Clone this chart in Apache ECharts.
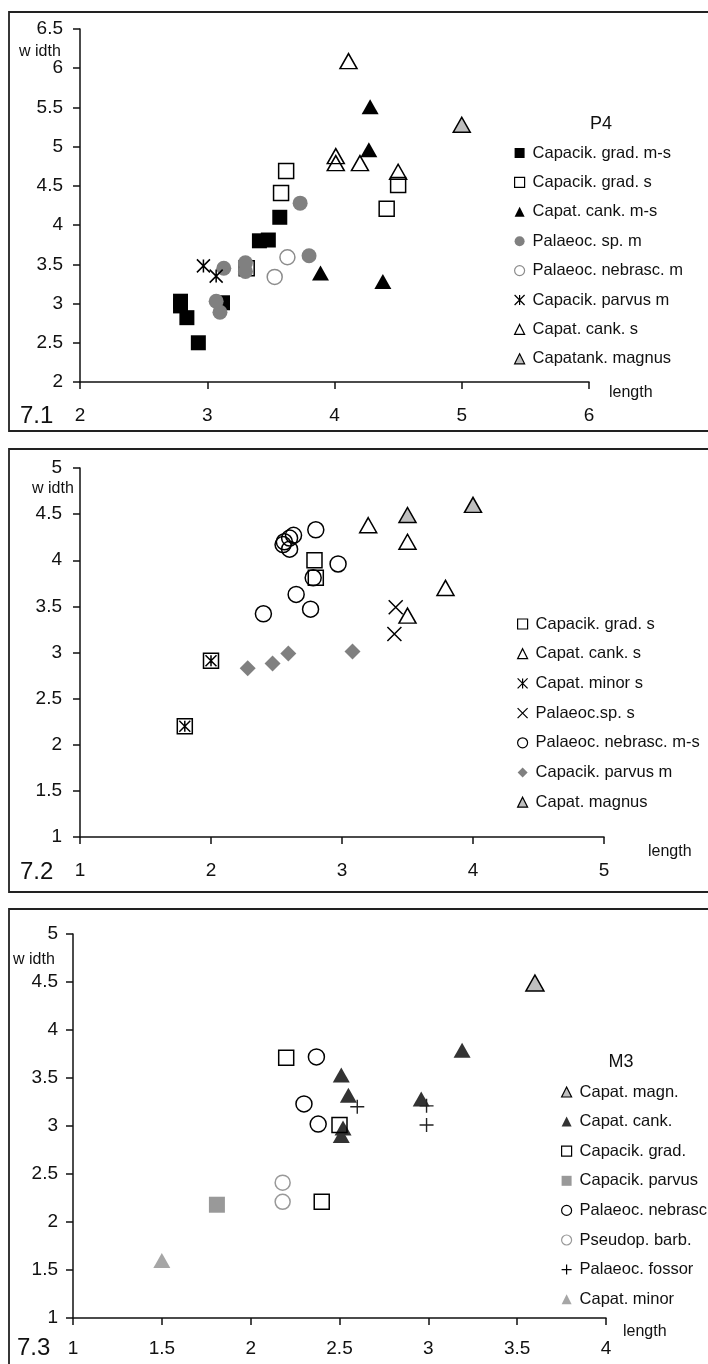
<!DOCTYPE html>
<html><head><meta charset="utf-8">
<script src="https://cdn.jsdelivr.net/npm/echarts@6/dist/echarts.min.js"></script>
<style>html,body{margin:0;padding:0;background:#fff}#c{width:708px;height:1364px}</style>
</head><body><div id="c"></div>
<script>
// ---------- Panel 7.1 (P4) ----------
const p1Names = ['Capacik. grad. m-s','Capacik. grad. s','Capat. cank. m-s','Palaeoc. sp. m','Palaeoc. nebrasc. m','Capacik. parvus m','Capat. cank. s','Capatank. magnus'];
const p1GradMS   = [[2.79,3.03],[2.79,2.97],[2.84,2.82],[2.93,2.50],[3.12,3.01],[3.41,3.80],[3.48,3.81],[3.57,4.10]];
const p1GradS    = [[3.62,4.69],[3.58,4.41],[3.31,3.45],[4.50,4.51],[4.41,4.21]];
const p1CankMS   = [[4.28,5.51],[4.27,4.96],[4.38,3.28],[3.89,3.39]];
const p1SpM      = [[3.73,4.28],[3.80,3.61],[3.30,3.52],[3.30,3.41],[3.13,3.45],[3.07,3.03],[3.10,2.89]];
const p1NebrM    = [[3.63,3.59],[3.53,3.34]];
const p1ParvusM  = [[2.97,3.48],[3.07,3.35]];
const p1CankS    = [[4.11,6.09],[4.01,4.88],[4.01,4.79],[4.20,4.79],[4.50,4.68]];
const p1Magnus   = [[5.00,5.28]];
const p1XTicks = {min:2,max:6,interval:1};
const p1YTicks = {min:2,max:6.5,interval:0.5};

// ---------- Panel 7.2 ----------
const p2Names = ['Capacik. grad. s','Capat. cank. s','Capat. minor s','Palaeoc.sp. s','Palaeoc. nebrasc. m-s','Capacik. parvus m','Capat. magnus'];
const p2GradS    = [[2.79,4.00],[2.80,3.81],[2.00,2.91],[1.80,2.20]];
const p2CankS    = [[3.20,4.38],[3.50,4.20],[3.79,3.70],[3.50,3.40]];
const p2MinorS   = [[2.00,2.91],[1.80,2.20]];
const p2SpS      = [[3.41,3.49],[3.40,3.20]];
const p2NebrMS   = [[2.80,4.33],[2.63,4.27],[2.60,4.24],[2.56,4.20],[2.55,4.17],[2.60,4.12],[2.97,3.96],[2.78,3.81],[2.65,3.63],[2.76,3.47],[2.40,3.42]];
const p2ParvusM  = [[2.28,2.83],[2.47,2.88],[2.59,2.99],[3.08,3.01]];
const p2Magnus   = [[3.50,4.49],[4.00,4.60]];
const p2XTicks = {min:1,max:5,interval:1};
const p2YTicks = {min:1,max:5,interval:0.5};

// ---------- Panel 7.3 (M3) ----------
const p3Names = ['Capat. magn.','Capat. cank.','Capacik. grad.','Capacik. parvus','Palaeoc. nebrasc','Pseudop. barb.','Palaeoc. fossor','Capat. minor'];
const p3Magn     = [[3.60,4.49]];
const p3Cank     = [[3.19,3.79],[2.96,3.28],[2.51,3.53],[2.55,3.32],[2.52,2.98],[2.51,2.90]];
const p3Grad     = [[2.20,3.71],[2.50,3.01],[2.40,2.21]];
const p3Parvus   = [[1.81,2.18]];
const p3Nebr     = [[2.37,3.72],[2.30,3.23],[2.38,3.02]];
const p3Pseudop  = [[2.18,2.41],[2.18,2.21]];
const p3Fossor   = [[2.60,3.20],[2.99,3.21],[2.99,3.01]];
const p3Minor    = [[1.50,1.60]];
const p3XTicks = {min:1,max:4,interval:0.5};
const p3YTicks = {min:1,max:5,interval:0.5};

// ---------- styles ----------
const FONT = '"Liberation Sans", Arial, sans-serif';
const TR = 'rgba(0,0,0,0)';
const ASTER = 'path://M0,0L10,10M10,0L0,10M5,0L5,10';
const CROSS = 'path://M0,0L10,10M10,0L0,10';
const PLUS  = 'path://M0,5L10,5M5,0L5,10';
const S = {
  black:   {color:'#000', opacity:1},
  hollow:  {color:TR, borderColor:'#000', borderWidth:1.5, opacity:1},
  gray:    {color:'#808080', opacity:1},
  hgray:   {color:TR, borderColor:'#8c8c8c', borderWidth:1.5, opacity:1},
  magnus:  {color:'#bfbfbf', borderColor:'#000', borderWidth:1.5, opacity:1},
  dark:    {color:'#333', opacity:1},
  gray9:   {color:'#999', opacity:1},
  minor:   {color:'#a6a6a6', opacity:1},
  hgray3:  {color:TR, borderColor:'#999', borderWidth:1.5, opacity:1},
  plus:    {color:TR, borderColor:'#222', borderWidth:1.4, opacity:1}
};

function ser(name, data, gi, symbol, size, style){
  return {type:'scatter', name, data, xAxisIndex:gi, yAxisIndex:gi, symbol, symbolSize:size,
    itemStyle:style, emphasis:{disabled:true}, silent:true};
}
const series = [
  ser(p1Names[0], p1GradMS, 0, 'rect', 15, S.black),
  ser(p1Names[1], p1GradS, 0, 'rect', 15, S.hollow),
  ser(p1Names[2], p1CankMS, 0, 'triangle', [17,15], S.black),
  ser(p1Names[3], p1SpM, 0, 'circle', 15, S.gray),
  ser(p1Names[4], p1NebrM, 0, 'circle', 15, S.hgray),
  ser(p1Names[5], p1ParvusM, 0, ASTER, 13, S.hollow),
  ser(p1Names[6], p1CankS, 0, 'triangle', [17,15], S.hollow),
  ser(p1Names[7], p1Magnus, 0, 'triangle', [17,15], S.magnus),

  ser(p2Names[0], p2GradS, 1, 'rect', 15, S.hollow),
  ser(p2Names[1], p2CankS, 1, 'triangle', [17,15], S.hollow),
  ser(p2Names[2], p2MinorS, 1, ASTER, 11, S.hollow),
  ser(p2Names[3], p2SpS, 1, CROSS, 14, S.hollow),
  ser(p2Names[4], p2NebrMS, 1, 'circle', 16, S.hollow),
  ser(p2Names[5], p2ParvusM, 1, 'diamond', 16, S.gray),
  ser(p2Names[6], p2Magnus, 1, 'triangle', [17,15], S.magnus),

  ser(p3Names[0], p3Magn, 2, 'triangle', [18,16], S.magnus),
  ser(p3Names[1], p3Cank, 2, 'triangle', [17,15], S.dark),
  ser(p3Names[2], p3Grad, 2, 'rect', 15, S.hollow),
  ser(p3Names[3], p3Parvus, 2, 'rect', 16, S.gray9),
  ser(p3Names[4], p3Nebr, 2, 'circle', 16, S.hollow),
  ser(p3Names[5], p3Pseudop, 2, 'circle', 15, S.hgray3),
  ser(p3Names[6], p3Fossor, 2, PLUS, 14, S.plus),
  ser(p3Names[7], p3Minor, 2, 'triangle', [17,15], S.minor)
];

function li(name, icon, style){ return {name, icon, itemStyle:Object.assign({opacity:1}, style)}; }
const lw = 1.2;
const LH = {color:TR, borderColor:'#000', borderWidth:lw};
const legend1 = [
  li(p1Names[0],'rect',{color:'#000',borderWidth:0}),
  li(p1Names[1],'rect',LH),
  li(p1Names[2],'triangle',{color:'#000',borderWidth:0}),
  li(p1Names[3],'circle',{color:'#808080',borderWidth:0}),
  li(p1Names[4],'circle',{color:TR,borderColor:'#8c8c8c',borderWidth:lw}),
  li(p1Names[5],ASTER,LH),
  li(p1Names[6],'triangle',LH),
  li(p1Names[7],'triangle',{color:'#bfbfbf',borderColor:'#000',borderWidth:lw})
];
const legend2 = [
  li(p2Names[0],'rect',LH),
  li(p2Names[1],'triangle',LH),
  li(p2Names[2],ASTER,LH),
  li(p2Names[3],CROSS,LH),
  li(p2Names[4],'circle',LH),
  li(p2Names[5],'diamond',{color:'#808080',borderWidth:0}),
  li(p2Names[6],'triangle',{color:'#bfbfbf',borderColor:'#000',borderWidth:lw})
];
const legend3 = [
  li(p3Names[0],'triangle',{color:'#bfbfbf',borderColor:'#000',borderWidth:lw}),
  li(p3Names[1],'triangle',{color:'#333',borderWidth:0}),
  li(p3Names[2],'rect',LH),
  li(p3Names[3],'rect',{color:'#999',borderWidth:0}),
  li(p3Names[4],'circle',LH),
  li(p3Names[5],'circle',{color:TR,borderColor:'#999',borderWidth:lw}),
  li(p3Names[6],PLUS,LH),
  li(p3Names[7],'triangle',{color:'#a6a6a6',borderWidth:0})
];
function mkLegend(data, left, top, gap){
  return {data, left, top, orient:'vertical', itemGap:gap, itemWidth:10, itemHeight:10,
    selectedMode:false, padding:0,
    textStyle:{fontFamily:FONT, fontSize:16.5, color:'#111', lineHeight:18, padding:[0,0,0,3]}};
}

function xAx(gi, t, margin){
  return {type:'value', gridIndex:gi, min:t.min, max:t.max, interval:t.interval,
    splitLine:{show:false},
    axisLine:{show:true, onZero:false, lineStyle:{color:'#111', width:1.5}},
    axisTick:{show:true, length:7, lineStyle:{color:'#111', width:1.5}},
    axisLabel:{fontFamily:FONT, fontSize:19, color:'#111', margin}};
}
function yAx(gi, t, margin){
  return {type:'value', gridIndex:gi, min:t.min, max:t.max, interval:t.interval,
    splitLine:{show:false},
    axisLine:{show:true, onZero:false, lineStyle:{color:'#111', width:1.5}},
    axisTick:{show:true, length:7, lineStyle:{color:'#111', width:1.5}},
    axisLabel:{fontFamily:FONT, fontSize:19, color:'#111', margin}};
}

function txt(text, x, y, size, align){
  return {type:'text', x, y, silent:true, style:{text, font:size+'px '+FONT, fill:'#111',
    textAlign:align||'left', textVerticalAlign:'middle'}};
}
function frame(x,y,w,h){
  return {type:'rect', shape:{x,y,width:w,height:h}, silent:true, z:-1,
    style:{fill:null, stroke:'#222', lineWidth:1.8}};
}

const option = {
  animation:false,
  backgroundColor:'#fff',
  grid:[
    {left:80, top:29, width:509, height:353},
    {left:80, top:468, width:524, height:369},
    {left:73, top:934, width:533, height:384}
  ],
  xAxis:[xAx(0,p1XTicks,24), xAx(1,p2XTicks,24), xAx(2,p3XTicks,21)],
  yAxis:[yAx(0,p1YTicks,17), yAx(1,p2YTicks,18), yAx(2,p3YTicks,15)],
  legend:[
    mkLegend(legend1, 514, 144, 11.4),
    mkLegend(legend2, 517, 615, 11.7),
    mkLegend(legend3, 561, 1083, 11.6)
  ],
  graphic:[
    frame(9,12,720,419), frame(9,449,720,443), frame(9,909,720,480),
    txt('w idth', 19, 52, 16), txt('length', 609, 393, 16), txt('7.1', 20, 416, 24), txt('P4', 601, 124, 18, 'center'),
    txt('w idth', 32, 489, 16), txt('length', 648, 852, 16), txt('7.2', 20, 872, 24),
    txt('w idth', 13, 960, 16), txt('length', 623, 1332, 16), txt('7.3', 17, 1348, 24), txt('M3', 621, 1062, 18, 'center')
  ],
  series
};
const chart = echarts.init(document.getElementById('c'), null, {renderer:'canvas'});
chart.setOption(option);
</script></body></html>
